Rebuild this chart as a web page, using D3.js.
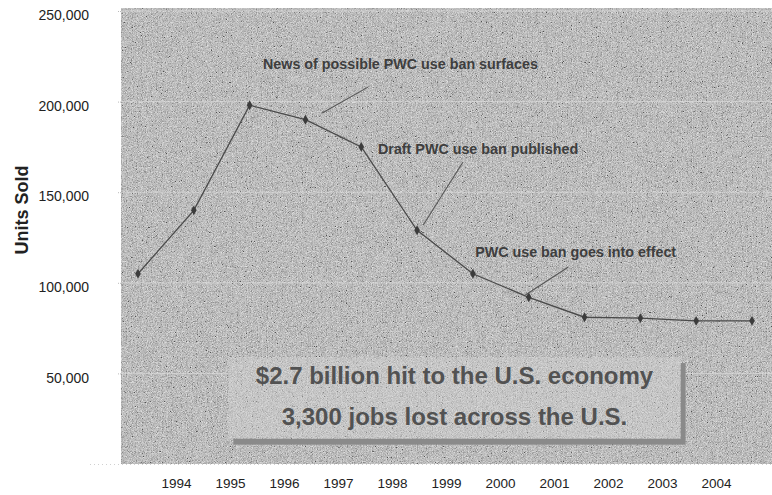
<!DOCTYPE html>
<html>
<head>
<meta charset="utf-8">
<script src="https://cdn.jsdelivr.net/npm/d3@7"></script>
<style>
  html, body { margin: 0; padding: 0; background: #fff; }
  svg { display: block; font-family: "Liberation Sans", Arial, sans-serif; }
</style>
</head>
<body>
<svg id="chart" width="772" height="495"></svg>
<script>
// ---- data ----
const yearLabels = ["1994","1995","1996","1997","1998","1999","2000","2001","2002","2003","2004"];
const pointIndex = [0,1,2,3,4,5,6,7,8,9,10,11];
const unitsSold = [105000,140000,198000,190000,175000,129000,105000,92000,81000,80500,79000,79000];
const yTickValues = [50000,100000,150000,200000,250000];
const gridValues = [50000,100000,150000,200000,250000];
const yAxisTitle = "Units Sold";
// annotations in data coordinates (point index, units)
const annotationTexts = ["News of possible PWC use ban surfaces","Draft PWC use ban published","PWC use ban goes into effect"];
const annotationAnchor = [[2.24,221000],[4.30,173800],[6.04,117000]];
const annotationLeaderFrom = [[4.12,208000],[5.82,166500],[7.71,108700]];
const annotationLeaderTo = [[3.30,193700],[5.11,131900],[6.94,93300]];
const boxLines = ["$2.7 billion hit to the U.S. economy","3,300 jobs lost across the U.S."];

// ---- layout ----
const svg = d3.select("#chart");
const plot = {left: 121, right: 772, top: 8, bottom: 464};

const y = d3.scaleLinear().domain([0,250000]).range([464, 11]);
const xPt = d3.scaleLinear().domain([0,11]).range([138, 752]);
const xLab = d3.scalePoint().domain(yearLabels).range([176, 716]);

// defs: noise filter
const defs = svg.append("defs");
const f = defs.append("filter").attr("id","noise").attr("x",0).attr("y",0).attr("width","100%").attr("height","100%");
f.append("feTurbulence").attr("type","fractalNoise").attr("baseFrequency",1.2).attr("numOctaves",1).attr("seed",3).attr("result","t");
f.append("feColorMatrix").attr("in","t").attr("type","matrix")
  .attr("values","0.8 0.8 0.8 0 -0.75  0.8 0.8 0.8 0 -0.75  0.8 0.8 0.8 0 -0.75  0 0 0 0 0.6");

// plot background
svg.append("rect").attr("x",plot.left).attr("y",plot.top)
  .attr("width",plot.right-plot.left).attr("height",plot.bottom-plot.top)
  .attr("fill","#c8c8c8");
svg.append("rect").attr("x",plot.left).attr("y",plot.top)
  .attr("width",plot.right-plot.left).attr("height",plot.bottom-plot.top)
  .attr("filter","url(#noise)");

// gridlines
svg.append("g").selectAll("line").data(gridValues).join("line")
  .attr("x1",plot.left).attr("x2",plot.right)
  .attr("y1",d=>y(d)).attr("y2",d=>y(d))
  .attr("stroke","#dcdcdc").attr("stroke-width",1).attr("opacity",0.7);

// y axis
const yAxis = d3.axisLeft(y).tickValues(yTickValues).tickFormat(d3.format(",")).tickSize(4).tickPadding(28);
const gy = svg.append("g").attr("transform",`translate(${plot.left},0)`).call(yAxis);
gy.select(".domain").remove();
gy.selectAll(".tick line").attr("stroke","#bbb").attr("stroke-dasharray","1,1");
gy.selectAll(".tick text").attr("font-size",14).attr("fill","#222").attr("dy","0.62em")
  .attr("font-family","'Liberation Sans', Arial, sans-serif");

// bottom axis
const xAxis = d3.axisBottom(xLab).tickSize(0).tickPadding(14);
const gx = svg.append("g").attr("transform",`translate(0,${plot.bottom})`).call(xAxis);
gx.select(".domain").attr("stroke","#d0d0d0").attr("stroke-dasharray","1,3")
  .attr("d",`M90,0.5H772`);
gx.selectAll(".tick text").attr("font-size",13.5).attr("fill","#222")
  .attr("font-family","'Liberation Sans', Arial, sans-serif");

// y title
svg.append("text").attr("transform","translate(28,210) rotate(-90)")
  .attr("text-anchor","middle").attr("font-size",18).attr("font-weight","bold").attr("fill","#222")
  .text(yAxisTitle);

// line
const line = d3.line().x((d,i)=>xPt(pointIndex[i])).y(d=>y(d));
svg.append("path").datum(unitsSold).attr("d",line)
  .attr("fill","none").attr("stroke","#4a4a4a").attr("stroke-width",1.3);
svg.append("g").selectAll("path").data(unitsSold).join("path")
  .attr("d",d3.symbol().type(d3.symbolDiamond).size(28))
  .attr("transform",(d,i)=>`translate(${xPt(pointIndex[i])},${y(d)})`)
  .attr("fill","#3c3c3c");

// annotations
const ga = svg.append("g");
annotationTexts.forEach((t,i)=>{
  ga.append("line")
    .attr("x1",xPt(annotationLeaderFrom[i][0])).attr("y1",y(annotationLeaderFrom[i][1]))
    .attr("x2",xPt(annotationLeaderTo[i][0])).attr("y2",y(annotationLeaderTo[i][1]))
    .attr("stroke","#555").attr("stroke-width",1.1);
  ga.append("text")
    .attr("x",xPt(annotationAnchor[i][0])).attr("y",y(annotationAnchor[i][1]))
    .attr("dy","0.35em").attr("font-size",14.3).attr("font-weight","bold").attr("fill","#3e3e3e")
    .text(t);
});

// callout box (positioned in data coordinates)
const boxX0 = xPt(1.62), boxX1 = xPt(9.72), boxY0 = y(59000), boxY1 = y(14000);
svg.append("rect").attr("x",boxX0+5).attr("y",boxY0+6).attr("width",boxX1-boxX0).attr("height",boxY1-boxY0)
  .attr("fill","#8a8a8a");
svg.append("rect").attr("x",boxX0).attr("y",boxY0).attr("width",boxX1-boxX0).attr("height",boxY1-boxY0)
  .attr("fill","#d0d0d0");
svg.append("rect").attr("x",boxX0).attr("y",boxY0).attr("width",boxX1-boxX0).attr("height",boxY1-boxY0)
  .attr("filter","url(#noise)").attr("opacity",0.6);
const cx = (boxX0+boxX1)/2;
svg.append("g").selectAll("text").data(boxLines).join("text")
  .attr("x",cx).attr("y",(d,i)=>y(i===0?49000:26000))
  .attr("dy","0.35em").attr("text-anchor","middle")
  .attr("font-size",24).attr("font-weight","bold").attr("fill","#525252")
  .text(d=>d);
</script>
</body>
</html>
